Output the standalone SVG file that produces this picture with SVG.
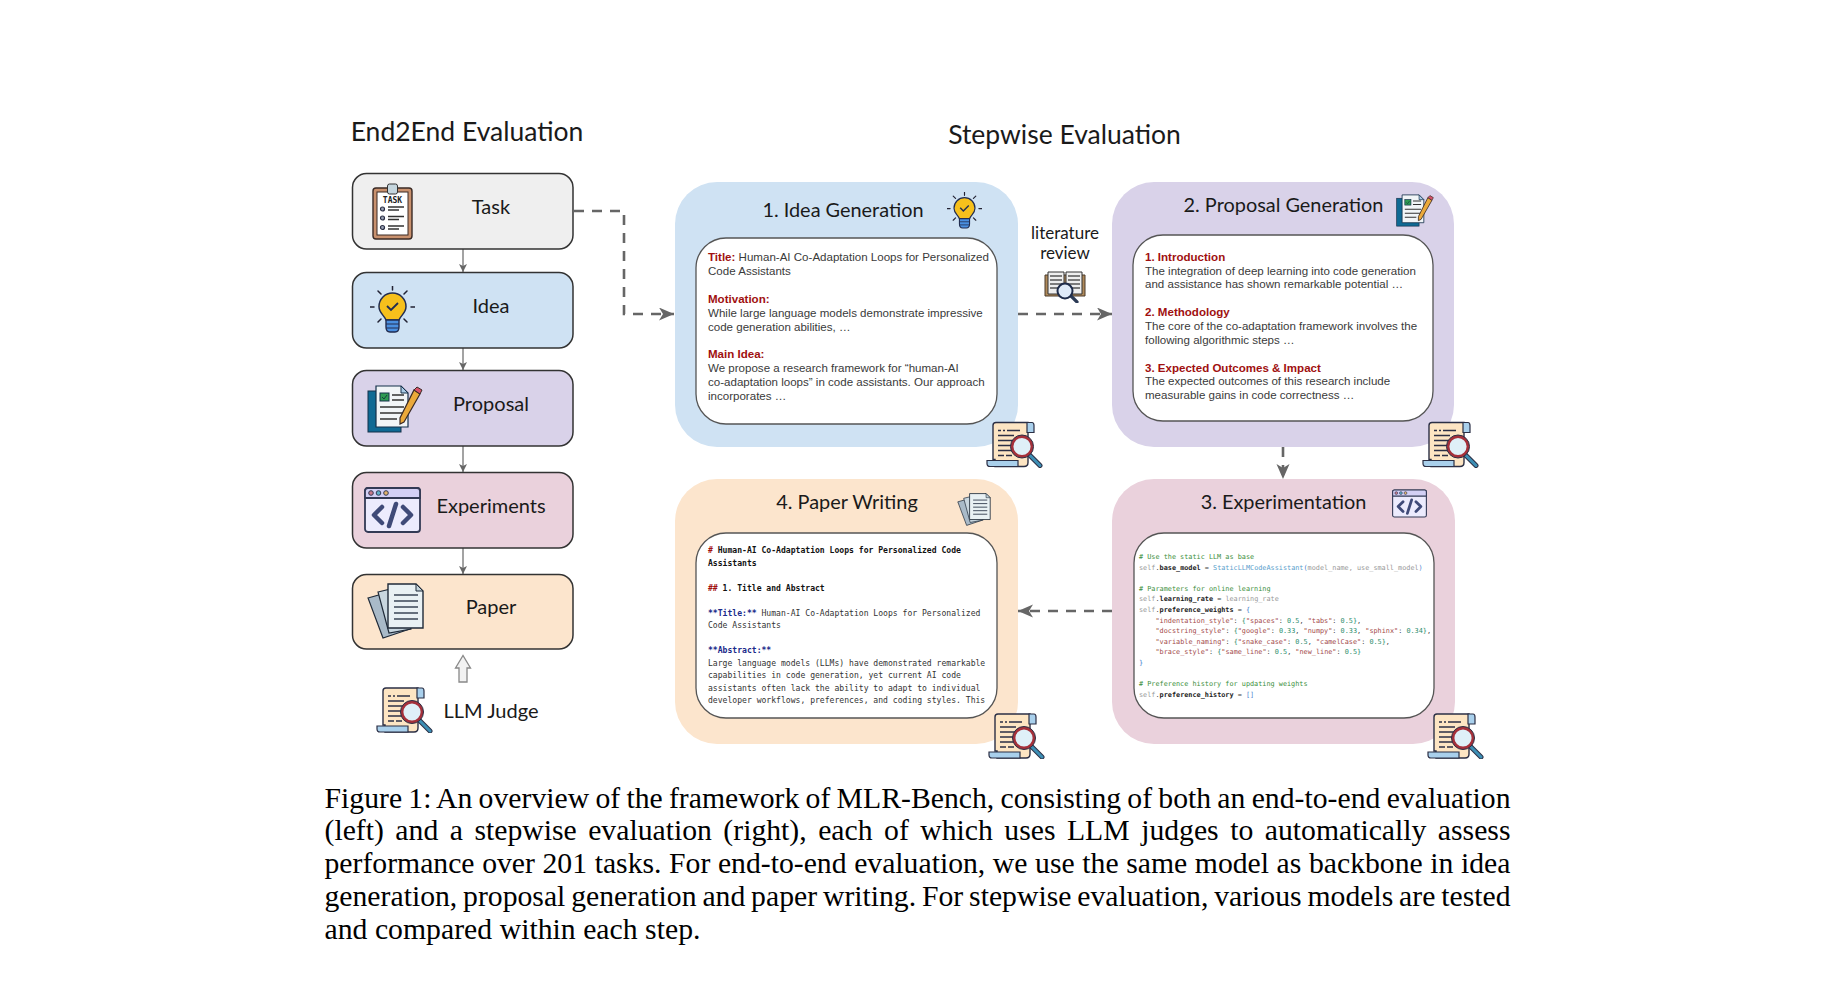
<svg xmlns="http://www.w3.org/2000/svg" width="1836" height="992" viewBox="0 0 1836 992">
<style>
text{font-family:"Liberation Sans",Arial,sans-serif}
.lato{font-family:Lato,"Open Sans",sans-serif;fill:#1a1a1a;text-anchor:middle}
.h1{font-size:26.5px}
.h2{font-size:19.9px}
.lb{font-size:20px}
.lit{font-size:17px}
.box{stroke:#333;stroke-width:1.5}
.inner{fill:#fff;stroke:#555;stroke-width:1.3}
.body{font-size:11.55px;fill:#3a3a3a;font-weight:normal}
.red{font-size:11.55px;fill:#a01010;font-weight:bold}
.mono{font-family:"DejaVu Sans Mono",monospace}
.pw{font-size:8.08px;fill:#333}
.pb{font-weight:bold;fill:#111}
.cd{font-size:6.83px;fill:#444}
.cm{fill:#3c8f3c}.se{fill:#999}.cl{fill:#5aa0cc}.st{fill:#a34a4a}.nu{fill:#2f8f70}.bl{fill:#4a7fd0}.na{fill:#222;font-weight:bold}
.ab{fill:#1a2a8a;font-weight:bold}
.cap{font-family:"Liberation Serif","Times New Roman",serif;font-size:29.7px;fill:#000}
.dash{fill:none;stroke:#666;stroke-width:2.6;stroke-dasharray:10 8}
.thin{fill:none;stroke:#666;stroke-width:1.2}
</style>
<defs>
<marker id="big" markerUnits="userSpaceOnUse" markerWidth="16" markerHeight="14" refX="15" refY="6.5" orient="auto"><path d="M0 0L15 6.500L0 13L4 6.500Z" fill="#666"/></marker>
<marker id="small" markerUnits="userSpaceOnUse" markerWidth="9" markerHeight="9" refX="8" refY="4" orient="auto"><path d="M0 0L8 4L0 8L2 4Z" fill="#666"/></marker>
<symbol id="i-task" viewBox="0 0 41 57">
<rect x="1" y="5" width="39" height="51" rx="3" fill="#c9916e" stroke="#3a2a25" stroke-width="1.400"/>
<rect x="5" y="9" width="31" height="43" fill="#fff" stroke="#3a2a25"/>
<rect x="15.500" y="1" width="10" height="10" rx="2" fill="#c5d6de" stroke="#333"/>
<text x="20.500" y="20" font-size="8" font-weight="bold" text-anchor="middle" class="mono" fill="#222">TASK</text>
<g fill="#9aa3b5" stroke="#2b2f45" stroke-width="1.200"><circle cx="10.500" cy="26" r="2"/><circle cx="10.500" cy="35" r="2"/><circle cx="10.500" cy="44.500" r="2"/></g>
<path d="M16 24H32M16 27H27M16 33.500H32M16 36.500H27M16 43H32M16 46H27" stroke="#333" stroke-width="1.400"/>
</symbol>
<symbol id="i-bulb" viewBox="0 0 45 47">
<path d="M22.500 0V4M8 5L11 8M37 5L34 8M0 21H4M41 21H45M8 36L11 33M37 36L34 33" stroke="#223" stroke-width="1.500" stroke-linecap="round"/>
<path d="M16 34C14 29 9 27 9 20.500A13.500 13.500 0 0 1 36 20.500C36 27 31 29 29 34Z" fill="#f6c01c" stroke="#222d50" stroke-width="1.500"/>
<path d="M17 20L21 24L28 17" fill="none" stroke="#222d50" stroke-width="1.800"/>
<path d="M16 34H29V41Q29 46 25 46H20Q16 46 16 41Z" fill="#4a8fe0" stroke="#222d50" stroke-width="1.400"/>
<path d="M16 38H29M16 42H29" stroke="#222d50" stroke-width="1"/>
</symbol>
<symbol id="i-prop" viewBox="0 0 56 48">
<rect x="1" y="6" width="33" height="41" fill="#0f6a94" stroke="#15304a"/>
<path d="M9 1H34L41 8V42H9Z" fill="#f1f5f7" stroke="#15304a" stroke-width="1.200"/>
<path d="M34 1V8H41Z" fill="#a9cbe6" stroke="#15304a"/>
<rect x="13" y="8" width="9" height="8" fill="#2e9a52" stroke="#15304a"/>
<path d="M15 12L17 14L20 10" fill="none" stroke="#14403a"/>
<path d="M25 10H37M25 15H37M13 22H37M13 28H37M13 34H30" stroke="#333" stroke-width="1.500"/>
<path d="M47 5L53 9L37 37L33 39L33 33Z" fill="#eba93a" stroke="#3a2a25" stroke-width="1.200"/>
<path d="M47 5L53 9L55 5L50 2Z" fill="#d8526a" stroke="#3a2a25"/>
</symbol>
<symbol id="i-code" viewBox="0 0 57 46">
<rect x="1" y="1" width="55" height="44" rx="3" fill="#ecebfd" stroke="#333a55" stroke-width="1.800"/>
<path d="M1 4Q1 1 4 1H53Q56 1 56 4V11H1Z" fill="#d3d0f5" stroke="#333a55" stroke-width="1.800"/>
<circle cx="7" cy="6" r="2.300" fill="#c97a8a" stroke="#333a55"/><circle cx="14.500" cy="6" r="2.300" fill="#5fb0c8" stroke="#333a55"/><circle cx="22" cy="6" r="2.300" fill="#e2b36a" stroke="#333a55"/>
<path d="M18 20L10 28L18 36M39 20L47 28L39 36M32 17L25 39" fill="none" stroke="#3f4a78" stroke-width="4.500" stroke-linecap="round" stroke-linejoin="round"/>
</symbol>
<symbol id="i-paper" viewBox="0 0 57 56">
<path d="M1 15L26 8L43 46L16 55Z" fill="#a9bac8" stroke="#1f2a38" stroke-width="1.200"/>
<path d="M11 9L32 4L44 46L22 50Z" fill="#c8d6df" stroke="#1f2a38" stroke-width="1.200"/>
<path d="M21 1H49L56 8V45H21Z" fill="#e9f1f4" stroke="#1f2a38" stroke-width="1.400"/>
<path d="M49 1V8H56Z" fill="#c4d4dc" stroke="#1f2a38"/>
<path d="M27 12H51M27 18H51M27 24H51M27 30H51M27 36H51" stroke="#3a4555" stroke-width="1.600"/>
</symbol>
<symbol id="i-judge" viewBox="0 0 57 46">
<path d="M7 4Q7 1 10 1H42V41Q42 45 38 45H9V38H7Z" fill="#fde5c3" stroke="#2b2f45" stroke-width="1.400"/>
<path d="M41 1H46Q48 1 48 4V11H41Z" fill="#a9d0ec" stroke="#2b2f45" stroke-width="1.200"/>
<path d="M1 39H32V45H4Q1 45 1 42Z" fill="#a9d0ec" stroke="#2b2f45" stroke-width="1.200"/>
<path d="M12 9H15M17 9H19M21 9H34M12 14H28M12 19H27M12 24H26M12 29H28M12 34H18M20 34H26" stroke="#2b2f45" stroke-width="1.500"/>
<path d="M42 32L54 44" stroke="#2b2f45" stroke-width="5" stroke-linecap="round"/>
<path d="M42 32L54 44" stroke="#3d8fb5" stroke-width="3" stroke-linecap="round"/>
<circle cx="36" cy="25" r="10" fill="#dff0f8" stroke="#a5303a" stroke-width="2.800"/>
<circle cx="36" cy="25" r="11.500" fill="none" stroke="#2b2f45"/>
</symbol>
<symbol id="i-book" viewBox="0 0 42 32">
<path d="M1 4H41V25H1Z" fill="#b08a5a" stroke="#4a3a2a"/>
<path d="M4 1H20V23H4ZM22 1H38V23H22Z" fill="#eee" stroke="#333" stroke-width="1"/>
<path d="M6 5H18M6 9H18M6 13H18M6 17H14M24 5H36M24 9H36M24 13H36M28 17H36" stroke="#555" stroke-width="1.300"/>
<path d="M26 24L33 31" stroke="#2b3a55" stroke-width="3.200" stroke-linecap="round"/>
<circle cx="21" cy="20" r="7.500" fill="#dfeaf8" stroke="#1f2c4a" stroke-width="2"/>
</symbol>
</defs>

<rect width="1836" height="992" fill="#fff"/>

<g id="titles">
<text class="lato h1" x="467" y="141">End2End Evaluation</text>
<text class="lato h1" x="1064.500" y="144">Stepwise Evaluation</text>
</g>

<g id="connectors">
<path class="thin" d="M463 249V272" marker-end="url(#small)"/>
<path class="thin" d="M463 348V370" marker-end="url(#small)"/>
<path class="thin" d="M463 446V472" marker-end="url(#small)"/>
<path class="thin" d="M463 548V574" marker-end="url(#small)"/>
<path class="dash" d="M574 211H624V314H674" marker-end="url(#big)"/>
<path class="dash" d="M1018 314H1112" marker-end="url(#big)"/>
<path class="dash" d="M1283 447V479" marker-end="url(#big)"/>
<path class="dash" d="M1112 611H1018" marker-end="url(#big)"/>
<path d="M459 682V668H455.500L463 655.500L470.500 668H467V682Z" fill="#f2f2f2" stroke="#888" stroke-width="1.300"/>
</g>

<g id="task">
<rect class="box" x="352.500" y="173.500" width="220.500" height="75.500" rx="14" fill="#efefef"/>
<use href="#i-task" x="372" y="183" width="41" height="57"/>
<text class="lato lb" x="491" y="214">Task</text>
</g>
<g id="idea">
<rect class="box" x="352.500" y="272.500" width="220.500" height="75.500" rx="14" fill="#cfe2f3"/>
<use href="#i-bulb" x="370" y="286" width="45" height="47"/>
<text class="lato lb" x="491" y="313">Idea</text>
</g>
<g id="proposal">
<rect class="box" x="352.500" y="370.500" width="220.500" height="75.500" rx="14" fill="#d9d2e9"/>
<use href="#i-prop" x="367" y="385" width="56" height="48"/>
<text class="lato lb" x="491" y="411">Proposal</text>
</g>
<g id="experiments">
<rect class="box" x="352.500" y="472.500" width="220.500" height="75.500" rx="14" fill="#ead1dc"/>
<use href="#i-code" x="364" y="487" width="57" height="46"/>
<text class="lato lb" x="491" y="513">Experiments</text>
</g>
<g id="paper">
<rect class="box" x="352.500" y="574.500" width="220.500" height="74.500" rx="14" fill="#fce5cd"/>
<use href="#i-paper" x="367" y="583" width="57" height="56"/>
<text class="lato lb" x="491" y="613.500">Paper</text>
</g>
<g id="llm-judge">
<use href="#i-judge" x="376" y="687" width="57" height="46"/>
<text class="lato lb" x="491" y="717.500">LLM Judge</text>
</g>

<g id="literature-review">
<text class="lato lit" x="1065" y="238.500">literature</text>
<text class="lato lit" x="1065" y="258.500">review</text>
<use href="#i-book" x="1044" y="271" width="42" height="32"/>
</g>

<g id="idea-generation">
<rect x="675" y="182" width="343" height="265" rx="42" fill="#cfe2f3"/>
<text class="lato h2" x="843" y="217">1. Idea Generation</text>
<use href="#i-bulb" x="947" y="192" width="35" height="37"/>
<rect class="inner" x="696" y="238" width="301" height="186" rx="30"/>
<text class="red" x="708" y="261">Title: <tspan class="body">Human-AI Co-Adaptation Loops for Personalized</tspan></text>
<text class="body" x="708" y="275">Code Assistants</text>
<text class="red" x="708" y="303">Motivation:</text>
<text class="body" x="708" y="317">While large language models demonstrate impressive</text>
<text class="body" x="708" y="331">code generation abilities, …</text>
<text class="red" x="708" y="358">Main Idea:</text>
<text class="body" x="708" y="372">We propose a research framework for “human-AI</text>
<text class="body" x="708" y="386">co-adaptation loops” in code assistants. Our approach</text>
<text class="body" x="708" y="400">incorporates …</text>
<use href="#i-judge" x="986" y="421" width="57" height="47"/>
</g>

<g id="proposal-generation">
<rect x="1112" y="182" width="342" height="265" rx="42" fill="#d9d2e9"/>
<text class="lato h2" x="1283.500" y="212">2. Proposal Generation</text>
<use href="#i-prop" x="1396" y="194" width="38" height="33"/>
<rect class="inner" x="1133" y="235" width="300" height="186" rx="30"/>
<text class="red" x="1145" y="261">1. Introduction</text>
<text class="body" x="1145" y="275">The integration of deep learning into code generation</text>
<text class="body" x="1145" y="288">and assistance has shown remarkable potential …</text>
<text class="red" x="1145" y="316">2. Methodology</text>
<text class="body" x="1145" y="330">The core of the co-adaptation framework involves the</text>
<text class="body" x="1145" y="344">following algorithmic steps …</text>
<text class="red" x="1145" y="372">3. Expected Outcomes &amp; Impact</text>
<text class="body" x="1145" y="385">The expected outcomes of this research include</text>
<text class="body" x="1145" y="399">measurable gains in code correctness …</text>
<use href="#i-judge" x="1422" y="421" width="57" height="47"/>
</g>

<g id="experimentation">
<rect x="1112" y="479" width="343" height="265" rx="42" fill="#ead1dc"/>
<text class="lato h2" x="1283.500" y="509">3. Experimentation</text>
<use href="#i-code" x="1392" y="489" width="35" height="29"/>
<rect class="inner" x="1134" y="533" width="300" height="185" rx="30"/>
<g>
<text class="mono cd cm" x="1139" y="559"># Use the static LLM as base</text>
<text class="mono cd" x="1139" y="569.500"><tspan class="se">self</tspan>.<tspan class="na">base_model</tspan> = <tspan class="cl">StaticLLMCodeAssistant</tspan><tspan class="bl">(</tspan><tspan class="se">model_name, use_small_model</tspan><tspan class="bl">)</tspan></text>
<text class="mono cd cm" x="1139" y="590.700"># Parameters for online learning</text>
<text class="mono cd" x="1139" y="601.300"><tspan class="se">self</tspan>.<tspan class="na">learning_rate</tspan> = <tspan class="se">learning_rate</tspan></text>
<text class="mono cd" x="1139" y="611.900"><tspan class="se">self</tspan>.<tspan class="na">preference_weights</tspan> = <tspan class="bl">{</tspan></text>
<text class="mono cd" x="1155.500" y="622.500"><tspan class="st">"indentation_style"</tspan>: <tspan class="nu">{</tspan><tspan class="st">"spaces"</tspan>: <tspan class="nu">0.5</tspan>, <tspan class="st">"tabs"</tspan>: <tspan class="nu">0.5}</tspan>,</text>
<text class="mono cd" x="1155.500" y="633.100"><tspan class="st">"docstring_style"</tspan>: <tspan class="nu">{</tspan><tspan class="st">"google"</tspan>: <tspan class="nu">0.33</tspan>, <tspan class="st">"numpy"</tspan>: <tspan class="nu">0.33</tspan>, <tspan class="st">"sphinx"</tspan>: <tspan class="nu">0.34}</tspan>,</text>
<text class="mono cd" x="1155.500" y="643.700"><tspan class="st">"variable_naming"</tspan>: <tspan class="nu">{</tspan><tspan class="st">"snake_case"</tspan>: <tspan class="nu">0.5</tspan>, <tspan class="st">"camelCase"</tspan>: <tspan class="nu">0.5}</tspan>,</text>
<text class="mono cd" x="1155.500" y="654.300"><tspan class="st">"brace_style"</tspan>: <tspan class="nu">{</tspan><tspan class="st">"same_line"</tspan>: <tspan class="nu">0.5</tspan>, <tspan class="st">"new_line"</tspan>: <tspan class="nu">0.5}</tspan></text>
<text class="mono cd bl" x="1139" y="664.900">}</text>
<text class="mono cd cm" x="1139" y="686.200"># Preference history for updating weights</text>
<text class="mono cd" x="1139" y="696.800"><tspan class="se">self</tspan>.<tspan class="na">preference_history</tspan> = <tspan class="bl">[]</tspan></text>
</g>
<use href="#i-judge" x="1427" y="713" width="57" height="46"/>
</g>

<g id="paper-writing">
<rect x="675" y="479" width="343" height="265" rx="42" fill="#fce5cd"/>
<text class="lato h2" x="847" y="509">4. Paper Writing</text>
<use href="#i-paper" x="957" y="493" width="34" height="33"/>
<rect class="inner" x="696" y="533" width="301" height="185" rx="30"/>
<text class="mono pw pb" x="708" y="553"><tspan fill="#a01010">#</tspan> Human-AI Co-Adaptation Loops for Personalized Code</text>
<text class="mono pw pb" x="708" y="565.500">Assistants</text>
<text class="mono pw pb" x="708" y="590.500"><tspan fill="#a01010">##</tspan> 1. Title and Abstract</text>
<text class="mono pw" x="708" y="615.500"><tspan class="ab">**Title:**</tspan> Human-AI Co-Adaptation Loops for Personalized</text>
<text class="mono pw" x="708" y="628">Code Assistants</text>
<text class="mono pw ab" x="708" y="653">**Abstract:**</text>
<text class="mono pw" x="708" y="665.500">Large language models (LLMs) have demonstrated remarkable</text>
<text class="mono pw" x="708" y="678">capabilities in code generation, yet current AI code</text>
<text class="mono pw" x="708" y="690.500">assistants often lack the ability to adapt to individual</text>
<text class="mono pw" x="708" y="703">developer workflows, preferences, and coding styles. This</text>
<use href="#i-judge" x="988" y="713" width="57" height="46"/>
</g>

<g id="caption">
<text class="cap" x="324.500" y="807.700" word-spacing="-1.240" textLength="1186">Figure 1: An overview of the framework of MLR-Bench, consisting of both an end-to-end evaluation</text>
<text class="cap" x="324.500" y="840.300" word-spacing="4.060" textLength="1186">(left) and a stepwise evaluation (right), each of which uses LLM judges to automatically assess</text>
<text class="cap" x="324.500" y="873.300" word-spacing="0.160" textLength="1186">performance over 201 tasks. For end-to-end evaluation, we use the same model as backbone in idea</text>
<text class="cap" x="324.500" y="905.700" word-spacing="-1.570" textLength="1186">generation, proposal generation and paper writing. For stepwise evaluation, various models are tested</text>
<text class="cap" x="324.500" y="938.800" textLength="376">and compared within each step.</text>
</g>
</svg>
